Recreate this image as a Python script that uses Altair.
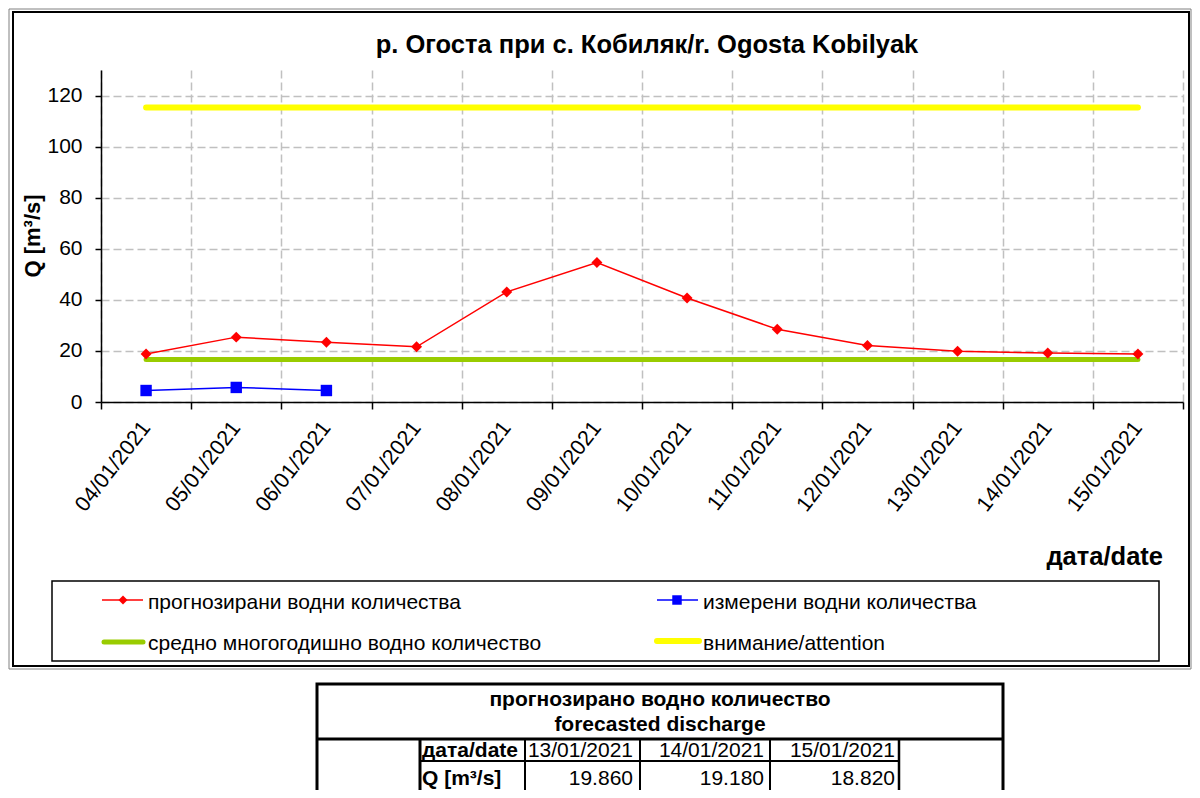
import altair as alt
import pandas as pd

# ---------------- data ----------------
dates = ["04/01/2021", "05/01/2021", "06/01/2021", "07/01/2021", "08/01/2021", "09/01/2021",
         "10/01/2021", "11/01/2021", "12/01/2021", "13/01/2021", "14/01/2021", "15/01/2021"]
forecast = [18.8, 25.4, 23.4, 21.6, 43.1, 54.6, 40.7, 28.5, 22.1, 19.86, 19.18, 18.82]
measured_dates = ["04/01/2021", "05/01/2021", "06/01/2021"]
measured = [4.5, 5.7, 4.5]
mean_q = 16.6
attention_q = 115.3
y_ticks = [0, 20, 40, 60, 80, 100, 120]

title_text = "р. Огоста при с. Кобиляк/r. Ogosta Kobilyak"
y_title = "Q [m³/s]"
x_title = "дата/date"
legend_labels = ["прогнозирани  водни количества", "измерени  водни количества",
                 "средно многогодишно  водно количество", "внимание/attention"]
table_header = ["прогнозирано водно количество", "forecasted discharge"]
table_row_labels = ["дата/date", "Q [m³/s]"]
table_dates = ["13/01/2021", "14/01/2021", "15/01/2021"]
table_q = ["19.860", "19.180", "18.820"]

# ---------------- style ----------------
FONT = "Liberation Sans"
RED, BLUE, GREEN, YELLOW = "#ff0000", "#0000ff", "#99cc00", "#ffff00"
GRID = "#c0c0c0"
W, H = 1082, 332

x_enc = alt.X(
    "date:N", title=None, bandPosition=0.5,
    scale=alt.Scale(type="band", domain=dates, paddingInner=0, paddingOuter=0),
    axis=alt.Axis(labelAngle=-52, labelAlign="right", labelBaseline="middle", labelFont=FONT,
                  labelFontSize=21.5, labelColor="black", labelPadding=15, labelOverlap=False,
                  labelFlush=False, tickSize=7, tickColor="black", tickWidth=1.5,
                  domainColor="black", domainWidth=1.5, tickBand="extent", grid=True,
                  gridColor=GRID, gridDash=[8, 4], gridWidth=1.5))
y_enc = alt.Y(
    "q:Q", title=None,
    scale=alt.Scale(domain=[0, 130], nice=False, zero=True),
    axis=alt.Axis(values=y_ticks, labelFont=FONT, labelFontSize=21, labelColor="black",
                  labelPadding=13, tickSize=6, tickColor="black", tickWidth=1.5,
                  domainColor="black", domainWidth=1.5, grid=True, gridColor=GRID,
                  gridDash=[8, 4], gridWidth=1.5))

df_att = pd.DataFrame({"date": dates, "q": [attention_q] * len(dates)})
df_mean = pd.DataFrame({"date": dates, "q": [mean_q] * len(dates)})
df_fc = pd.DataFrame({"date": dates, "q": forecast})
df_ms = pd.DataFrame({"date": measured_dates, "q": measured})

att = alt.Chart(df_att).mark_line(color=YELLOW, strokeWidth=6, strokeCap="round").encode(x=x_enc, y=y_enc)
mean = alt.Chart(df_mean).mark_line(color=GREEN, strokeWidth=5, strokeCap="round").encode(x=x_enc, y=y_enc)
meas = alt.Chart(df_ms).mark_line(
    color=BLUE, strokeWidth=1.5,
    point=alt.OverlayMarkDef(shape="square", filled=True, size=130, color=BLUE)
).encode(x=x_enc, y=y_enc)
fc = alt.Chart(df_fc).mark_line(
    color=RED, strokeWidth=1.5,
    point=alt.OverlayMarkDef(shape="diamond", filled=True, size=120, color=RED)
).encode(x=x_enc, y=y_enc)

one = pd.DataFrame({"k": [0]})


def rule(x1, x2, y1, y2, color="black", width=1.5, cap="butt"):
    return alt.Chart(one).mark_rule(color=color, strokeWidth=width, strokeCap=cap).encode(
        x=alt.value(x1), x2=alt.value(x2), y=alt.value(y1), y2=alt.value(y2))


def box(x1, y1, x2, y2, color="black", width=1.5):
    return alt.Chart(one).mark_rect(fillOpacity=0, stroke=color, strokeWidth=width).encode(
        x=alt.value(x1), x2=alt.value(x2), y=alt.value(y1), y2=alt.value(y2))


def label(text, x, y, size, bold=False, align="left", baseline="alphabetic", angle=0):
    kw = dict(font=FONT, fontSize=size, color="black", align=align, baseline=baseline)
    if bold:
        kw["fontWeight"] = "bold"
    if angle:
        kw["angle"] = angle
    return alt.Chart(pd.DataFrame({"t": [text]})).mark_text(**kw).encode(
        text="t:N", x=alt.value(x), y=alt.value(y))


def marker(shape, x, y, size, color):
    return alt.Chart(one).mark_point(shape=shape, filled=True, size=size, color=color, opacity=1).encode(
        x=alt.value(x), y=alt.value(y))


layers = []
# outer chart frame
layers.append(box(-92, -61, 1090, 599, color="#808080", width=1))
layers.append(box(-88, -58, 1088, 596, color="black", width=2))
# series
layers += [att, mean, meas, fc]
# titles
layers.append(label(title_text, 546, -17, 25.5, bold=True, align="center"))
layers.append(label(y_title, -68, 166, 22, bold=True, align="center", baseline="middle", angle=270))
layers.append(label(x_title, 1062, 495, 25.5, bold=True, align="right"))
# legend
layers.append(box(-49, 511, 1058, 591, color="black", width=1.5))
layers.append(rule(1, 42, 530, 530, color=RED, width=1.5))
layers.append(marker("diamond", 22, 530, 80, RED))
layers.append(label(legend_labels[0], 47, 539, 21))
layers.append(rule(556, 597, 530, 530, color=BLUE, width=1.5))
layers.append(marker("square", 576, 530, 90, BLUE))
layers.append(label(legend_labels[1], 602, 539, 21))
layers.append(rule(3, 42, 572, 572, color=GREEN, width=5, cap="round"))
layers.append(label(legend_labels[2], 47, 580, 21))
layers.append(rule(556, 598, 571, 571, color=YELLOW, width=6, cap="round"))
layers.append(label(legend_labels[3], 602, 580, 21))
# table
tx0, tx1, ty0, ty1 = 216, 902, 614, 740
layers.append(box(tx0, ty0, tx1, ty1, color="black", width=3))
layers.append(rule(tx0, tx1, 669, 669, width=3))
col_x = [319, 424, 539, 669, 798]
col_w = [3, 2, 2, 2, 2.5]
for cx, cw in zip(col_x, col_w):
    layers.append(rule(cx, cx, 669, 740, width=cw))
layers.append(rule(319, 798, 691, 691, width=2))
layers.append(label(table_header[0], 559, 636, 21, bold=True, align="center"))
layers.append(label(table_header[1], 559, 661, 21, bold=True, align="center"))
layers.append(label(table_row_labels[0], 321, 687, 21, bold=True))
layers.append(label(table_row_labels[1], 321, 715, 21, bold=True))
right_edges = [532, 663, 794]
for i, rx in enumerate(right_edges):
    layers.append(label(table_dates[i], rx, 687, 21, align="right"))
    layers.append(label(table_q[i], rx, 715, 21, align="right"))

chart = alt.layer(*layers).properties(
    width=W, height=H,
    autosize=alt.AutoSizeParams(type="none"),
    padding={"left": 93, "top": 62, "right": 9, "bottom": 388},
    background="white",
).configure_view(strokeWidth=0)

chart.save("out.html", embed_options={"renderer": "svg", "actions": False})
